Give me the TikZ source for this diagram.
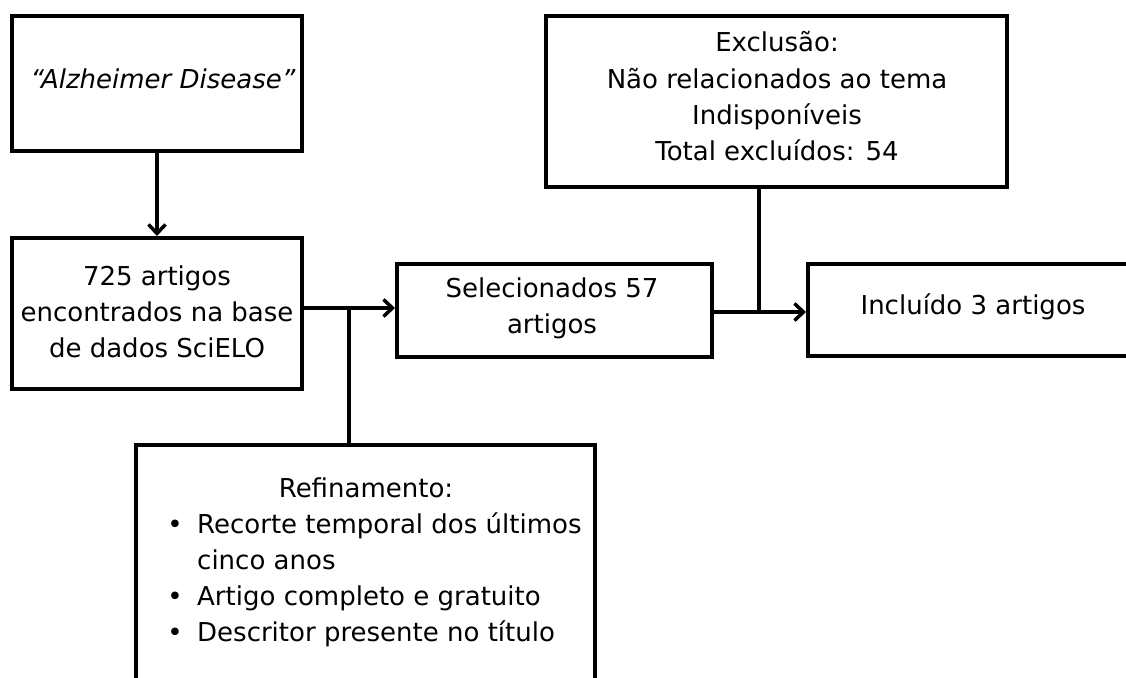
\documentclass[tikz,border=0pt]{standalone}
\usepackage{fontspec}
\setmainfont{DejaVu Sans}
\usetikzlibrary{arrows.meta}
\begin{document}
\begin{tikzpicture}[x=1pt,y=-1pt,
  box/.style={draw=black,line width=4pt,rectangle,inner sep=0pt},
  lbl/.style={inner sep=0pt,anchor=base,font=\fontsize{26pt}{36pt}\selectfont},
  lblw/.style={lbl,anchor=base west},
  conn/.style={line width=3.5pt},
  arr/.style={conn,-{Straight Barb[length=9pt,width=17pt]}}]
\useasboundingbox (0,0) rectangle (1126,677);
\fill[white] (0,0) rectangle (1126,677);
\clip (0,0) rectangle (1126,677);
% boxes
\node[box,minimum width=290pt,minimum height=135pt] (alz) at (157,83.5) {};
\node[box,minimum width=290pt,minimum height=151pt] (base) at (157,313.5) {};
\node[box,minimum width=315pt,minimum height=93pt] (sel) at (554.5,310.5) {};
\node[box,minimum width=461pt,minimum height=171pt] (excl) at (776.5,101.5) {};
\node[box,minimum width=332pt,minimum height=92pt] (incl) at (974,310) {};
\node[box,minimum width=459pt,minimum height=255pt] (refin) at (365.5,572.5) {};
% texts
\node[lbl] (talz) at (163,88) {\itshape “Alzheimer Disease”};
\node[lbl] (tb1) at (157,285) {725 artigos};
\node[lbl] (tb2) at (157,321) {encontrados na base};
\node[lbl] (tb3) at (157,357) {de dados SciELO};
\node[lbl] (ts1) at (552,297) {Selecionados 57};
\node[lbl] (ts2) at (552,333) {artigos};
\node[lbl] (te1) at (777,52) {Exclusão:};
\node[lbl] (te2) at (777,88) {Não relacionados ao tema};
\node[lbl] (te3) at (777,124) {Indisponíveis};
\node[lbl] (te4) at (777,160) {Total excluídos: 54};
\node[lbl] (ti) at (973,314) {Incluído 3 artigos};
\node[lbl] (tr0) at (366,497) {Refinamento:};
\node[lbl] (bu1) at (175,533) {•};
\node[lblw] (tr1) at (197,533) {Recorte temporal dos últimos};
\node[lblw] (tr1b) at (197,569) {cinco anos};
\node[lbl] (bu2) at (175,605) {•};
\node[lblw] (tr2) at (197,605) {Artigo completo e gratuito};
\node[lbl] (bu3) at (175,641) {•};
\node[lblw] (tr3) at (197,641) {Descritor presente no título};
% connectors
\coordinate (j1) at (349,308);
\coordinate (j2) at (759,312);
\draw[arr] (alz.south) -- (base.north);
\draw[conn] (base.east |- j1) -- (j1);
\draw[arr] (j1) -- (sel.west |- j1);
\draw[conn] (j1) -- (j1 |- refin.north);
\draw[conn] (sel.east |- j2) -- (j2);
\draw[arr] (j2) -- (incl.west |- j2);
\draw[conn] (excl.south -| j2) -- (j2);
\end{tikzpicture}
\end{document}
